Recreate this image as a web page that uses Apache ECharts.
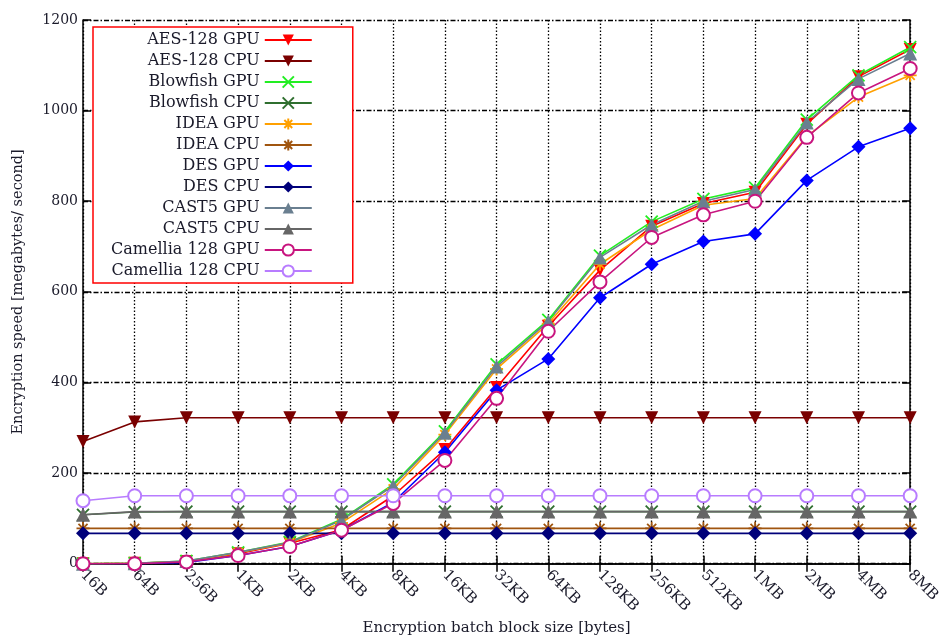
<!DOCTYPE html>
<html><head><meta charset="utf-8">
<script src="https://cdn.jsdelivr.net/npm/echarts@6/dist/echarts.min.js"></script>
<style>html,body{margin:0;padding:0;background:#fff}#c{width:943px;height:641px}</style>
</head><body><div id="c"></div>
<script>
const categories = ['16B','64B','256B','1KB','2KB','4KB','8KB','16KB','32KB','64KB','128KB','256KB','512KB','1MB','2MB','4MB','8MB'];
const yTicks = [0,200,400,600,800,1000,1200];
const aesGpu      = [0,1,5,22,45,75,150,252,389,524,648,745,795,820,970,1075,1135];
const aesCpu      = [270,313,322,322,322,322,322,322,322,322,322,322,322,322,322,322,322];
const blowfishGpu = [0,1,6,25,48,98,175,292,440,538,680,755,805,830,980,1078,1140];
const blowfishCpu = [108,114,115,115,115,115,115,115,115,115,115,115,115,115,115,115,115];
const ideaGpu     = [0,1,5,24,46,90,165,285,430,530,661,737,791,806,943,1030,1078];
const ideaCpu     = [78,78,78,78,78,78,78,78,78,78,78,78,78,78,78,78,78];
const desGpu      = [0,0,3,18,38,74,135,246,383,452,587,661,711,728,846,920,961];
const desCpu      = [67,67,67,67,67,67,67,67,67,67,67,67,67,67,67,67,67];
const cast5Gpu    = [0,1,6,25,47,96,172,289,435,535,676,748,800,826,974,1070,1126];
const cast5Cpu    = [108,115,115,115,115,115,115,115,115,115,115,115,115,115,115,115,115];
const camelliaGpu = [0,0,4,18,38,74,133,228,365,513,622,720,770,800,941,1039,1093];
const camelliaCpu = [139,150,150,150,150,150,150,150,150,150,150,150,150,150,150,150,150];

const TRI_DOWN = 'path://M0,0L10,0L5,9Z';
const CROSS = 'path://M0,0L10,10M10,0L0,10';
const STAR = 'path://M0,5L10,5M5,0L5,10M1.5,1.5L8.5,8.5M8.5,1.5L1.5,8.5';
const FONT = 'DejaVu Serif';

const defs = [
  ['AES-128 GPU', aesGpu, '#ff0000', TRI_DOWN, 13, false],
  ['AES-128 CPU', aesCpu, '#7a0000', TRI_DOWN, 13, false],
  ['Blowfish GPU', blowfishGpu, '#22ee22', CROSS, 12, true],
  ['Blowfish CPU', blowfishCpu, '#2f6f2f', CROSS, 12, true],
  ['IDEA GPU', ideaGpu, '#ffa000', STAR, 13, true],
  ['IDEA CPU', ideaCpu, '#a0550f', STAR, 13, true],
  ['DES GPU', desGpu, '#0000ff', 'diamond', 14, false],
  ['DES CPU', desCpu, '#00007a', 'diamond', 14, false],
  ['CAST5 GPU', cast5Gpu, '#6a7f90', 'triangle', 14, false],
  ['CAST5 CPU', cast5Cpu, '#666666', 'triangle', 14, false],
  ['Camellia 128 GPU', camelliaGpu, '#c8157f', 'emptyCircle', 13, false],
  ['Camellia 128 CPU', camelliaCpu, '#b87cff', 'emptyCircle', 13, false]
];

const series = defs.map(([name, data, color, symbol, size, stroke]) => ({
  name, type: 'line', data, symbol, symbolSize: size,
  showAllSymbol: true,
  xAxisIndex: 0, yAxisIndex: 0,
  lineStyle: { color, width: 1.6 },
  itemStyle: stroke ? { color, borderColor: color, borderWidth: 1.8 }
                    : (symbol === 'emptyCircle' ? { color, borderColor: color, borderWidth: 1.5 } : { color, borderWidth: 0 }),
  emphasis: { disabled: true },
  animation: false
}));

const chart = echarts.init(document.getElementById('c'), null, { renderer: 'canvas' });
chart.setOption({
  backgroundColor: '#fff',
  animation: false,
  grid: { left: 83, right: 27, top: 20, bottom: 71 },
  legend: {
    orient: 'vertical', left: 93, top: 27, align: 'right',
    itemWidth: 47, itemHeight: 14, itemGap: 5,
    backgroundColor: '#fff', borderColor: '#ff0000', borderWidth: 1.5,
    padding: [5, 40, 4, 18],
    textStyle: { fontFamily: FONT, fontSize: 16, lineHeight: 14, color: '#1a1a2a' },
    data: defs.map(d => d[0])
  },
  xAxis: [{
    type: 'category', data: categories, boundaryGap: false,
    axisLine: { lineStyle: { color: '#000', width: 1.5 } },
    axisTick: { inside: true, length: 8, alignWithLabel: true, lineStyle: { color: '#000', width: 1.5 } },
    axisLabel: { rotate: -45, interval: 0, margin: 9, fontFamily: FONT, fontSize: 15, color: '#1a1a2a' },
    splitLine: { show: true, interval: 0, lineStyle: { color: '#000', type: [1.5, 2], width: 1.3 } },
    name: 'Encryption batch block size [bytes]', nameLocation: 'middle', nameGap: 56,
    nameTextStyle: { fontFamily: FONT, fontSize: 15, color: '#1a1a2a' }
  }, {
    type: 'category', data: categories, boundaryGap: false, position: 'top',
    axisLine: { lineStyle: { color: '#000', width: 1.5 } },
    axisTick: { inside: true, length: 8, lineStyle: { color: '#000', width: 1.5 } },
    axisLabel: { show: false }, splitLine: { show: false }
  }],
  yAxis: [{
    type: 'value', min: 0, max: 1200, interval: 200,
    axisLine: { show: true, lineStyle: { color: '#000', width: 1.5 } },
    axisTick: { show: true, inside: true, length: 8, lineStyle: { color: '#000', width: 1.5 } },
    axisLabel: { margin: 5, fontFamily: FONT, fontSize: 14, color: '#1a1a2a',
      formatter: v => yTicks.includes(v) ? String(v) : '' },
    splitLine: { show: true, lineStyle: { color: '#000', type: [5, 2, 1.5, 2], width: 1.3 } },
    name: 'Encryption speed [megabytes/ second]', nameLocation: 'middle', nameGap: 57,
    nameTextStyle: { fontFamily: FONT, fontSize: 14.5, color: '#1a1a2a' }
  }, {
    type: 'value', min: 0, max: 1200, interval: 200, position: 'right',
    axisLine: { show: true, lineStyle: { color: '#000', width: 1.5 } },
    axisTick: { show: true, inside: true, length: 8, lineStyle: { color: '#000', width: 1.5 } },
    axisLabel: { show: false }, splitLine: { show: false }
  }],
  series
});
</script></body></html>
